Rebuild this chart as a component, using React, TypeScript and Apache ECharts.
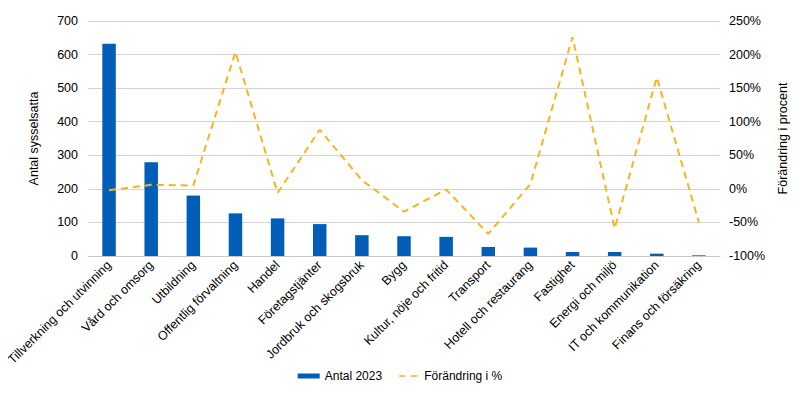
import React, { useEffect, useRef } from "react";
import * as echarts from "echarts";

const categories = [
  "Tillverkning och utvinning",
  "Vård och omsorg",
  "Utbildning",
  "Offentlig förvaltning",
  "Handel",
  "Företagstjänter",
  "Jordbruk och skogsbruk",
  "Bygg",
  "Kultur, nöje och fritid",
  "Transport",
  "Hotell och restaurang",
  "Fastighet",
  "Energi och miljö",
  "IT och kommunikation",
  "Finans och försäkring",
];
const antal2023 = [632, 279, 180, 127, 112, 95, 62, 59, 57, 27, 25, 12, 12, 7, 2];
const forandring = [-2, 6, 5, 204, -6, 88, 13, -34, -1, -67, 7, 226, -59, 166, -50];

const font = "Liberation Sans, Arial, Helvetica, sans-serif";
const dashIcon = "path://M0,0 M22,6 M0,2h7v2h-7z M14,2h8v2h-8z";

export default function App() {
  const ref = useRef<HTMLDivElement>(null);
  useEffect(() => {
    if (!ref.current) return;
    const chart = echarts.init(ref.current, undefined, { renderer: "svg" });
    chart.setOption({
      animation: false,
      textStyle: { fontFamily: font, color: "#000" },
      grid: { left: 88, right: 80, top: 21, bottom: 138, containLabel: false },
      legend: {
        bottom: 7,
        left: "center",
        itemGap: 17,
        itemWidth: 22,
        itemHeight: 5,
        textStyle: { fontFamily: font, fontSize: 12, color: "#000" },
        data: [
          { name: "Antal 2023", icon: "rect" },
          { name: "Förändring i %", icon: dashIcon, itemStyle: { color: "#F5B51E" } },
        ],
      },
      xAxis: {
        type: "category",
        data: categories,
        axisLine: { lineStyle: { color: "#c8c8c8", width: 1 } },
        axisTick: { show: false },
        axisLabel: {
          rotate: 45,
          interval: 0,
          fontSize: 12.5,
          color: "#000",
          fontFamily: font,
          margin: 7,
        },
      },
      yAxis: [
        {
          type: "value",
          min: 0,
          max: 700,
          interval: 100,
          name: "Antal sysselsatta",
          nameLocation: "middle",
          nameGap: 48,
          nameRotate: 90,
          nameTextStyle: { fontSize: 12.5, color: "#000", fontFamily: font },
          axisLabel: { fontSize: 12.5, color: "#000", fontFamily: font, margin: 10 },
          axisLine: { show: false },
          axisTick: { show: false },
          splitLine: { lineStyle: { color: "#d4d4d4", width: 1 } },
        },
        {
          type: "value",
          min: -100,
          max: 250,
          interval: 50,
          position: "right",
          name: "Förändring i procent",
          nameLocation: "middle",
          nameGap: 54,
          nameRotate: 90,
          nameTextStyle: { fontSize: 12.5, color: "#000", fontFamily: font },
          axisLabel: {
            fontSize: 12.5,
            color: "#000",
            fontFamily: font,
            margin: 9,
            formatter: "{value}%",
          },
          axisLine: { show: false },
          axisTick: { show: false },
          splitLine: { show: false },
        },
      ],
      series: [
        {
          name: "Antal 2023",
          type: "bar",
          data: antal2023,
          barWidth: "32%",
          itemStyle: { color: "#005EB8" },
          yAxisIndex: 0,
        },
        {
          name: "Förändring i %",
          type: "line",
          data: forandring,
          yAxisIndex: 1,
          symbol: "none",
          lineStyle: { color: "#F5B51E", width: 2, type: [7, 5] },
          itemStyle: { color: "#F5B51E" },
        },
      ],
    });
    return () => chart.dispose();
  }, []);
  return <div ref={ref} style={{ width: 800, height: 394, margin: -8 }} />;
}
